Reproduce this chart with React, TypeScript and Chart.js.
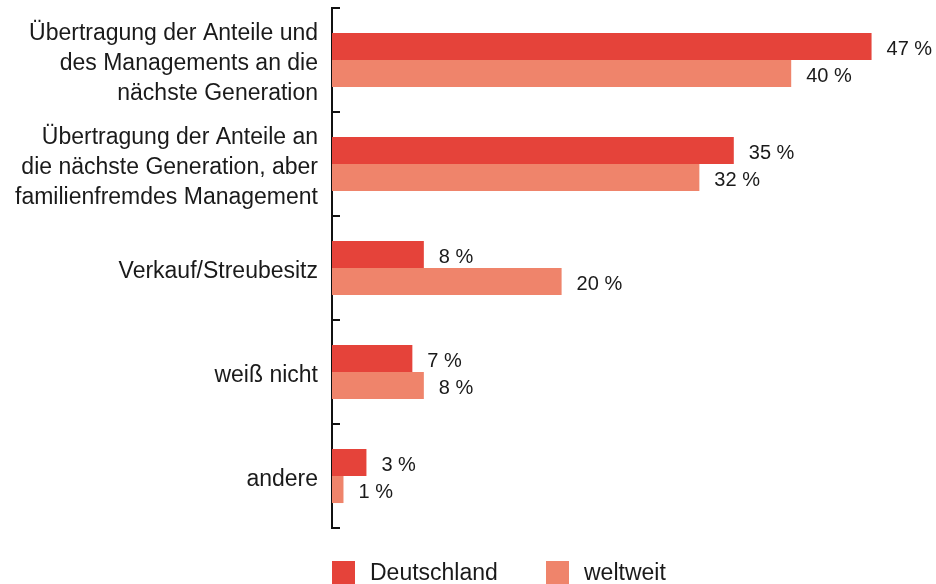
import React, { useEffect, useRef } from "react";
import { Chart, registerables } from "chart.js";

Chart.register(...registerables);

const categories: string[][] = [
  ["Übertragung der Anteile und", "des Managements an die", "nächste Generation"],
  ["Übertragung der Anteile an", "die nächste Generation, aber", "familienfremdes Management"],
  ["Verkauf/Streubesitz"],
  ["weiß nicht"],
  ["andere"],
];
const deutschland: number[] = [47, 35, 8, 7, 3];
const weltweit: number[] = [40, 32, 20, 8, 1];
const seriesNames: string[] = ["Deutschland", "weltweit"];
const colors: string[] = ["#E5433A", "#EF846B"];

const FONT = "'Liberation Sans', Arial, Helvetica, sans-serif";
const TEXT = "#1a1a1a";

const valueLabels = {
  id: "valueLabels",
  afterDatasetsDraw(chart: any) {
    const ctx = chart.ctx;
    ctx.save();
    ctx.font = `20px ${FONT}`;
    ctx.fillStyle = TEXT;
    ctx.textAlign = "left";
    ctx.textBaseline = "middle";
    chart.data.datasets.forEach((ds: any, di: number) => {
      const meta = chart.getDatasetMeta(di);
      meta.data.forEach((bar: any, i: number) => {
        ctx.fillText(`${ds.data[i]} %`, bar.x + 15, bar.y + 3);
      });
    });
    ctx.restore();
  },
};

const innerTicks = {
  id: "innerTicks",
  afterDraw(chart: any) {
    const ctx = chart.ctx;
    const y = chart.scales.y;
    const left = chart.chartArea.left;
    ctx.save();
    ctx.strokeStyle = "#111";
    ctx.lineWidth = 2;
    for (let i = 0; i <= chart.data.labels.length; i++) {
      const py = Math.round(y.getPixelForValue(i - 0.5));
      ctx.beginPath();
      ctx.moveTo(left - 1, py);
      ctx.lineTo(left + 8, py);
      ctx.stroke();
    }
    ctx.restore();
  },
};

const customLegend = {
  id: "customLegend",
  afterDraw(chart: any) {
    const ctx = chart.ctx;
    const left = chart.chartArea.left;
    const top = chart.chartArea.bottom + 33;
    const offsets = [0, 214];
    ctx.save();
    ctx.font = `23px ${FONT}`;
    ctx.textBaseline = "middle";
    ctx.textAlign = "left";
    chart.data.datasets.forEach((ds: any, di: number) => {
      const x = left + offsets[di];
      ctx.fillStyle = ds.backgroundColor;
      ctx.fillRect(x, top, 23, 23);
      ctx.fillStyle = TEXT;
      ctx.fillText(ds.label, x + 38, top + 13);
    });
    ctx.restore();
  },
};

export default function App() {
  const ref = useRef<HTMLCanvasElement | null>(null);
  useEffect(() => {
    if (!ref.current) return;
    const chart = new Chart(ref.current, {
      type: "bar",
      data: {
        labels: categories,
        datasets: [
          { label: seriesNames[0], data: deutschland, backgroundColor: colors[0] },
          { label: seriesNames[1], data: weltweit, backgroundColor: colors[1] },
        ],
      },
      options: {
        indexAxis: "y",
        animation: false,
        responsive: false,
        maintainAspectRatio: false,
        layout: { padding: { top: 8, bottom: 56, left: 0, right: 30 } },
        datasets: { bar: { categoryPercentage: 0.52, barPercentage: 1 } },
        plugins: { legend: { display: false }, tooltip: { enabled: false } },
        scales: {
          x: { display: false, min: 0, max: 50 },
          y: {
            afterFit: (scale: any) => {
              scale.width = 332;
              scale.paddingTop = 0;
              scale.paddingBottom = 0;
            },
            grid: { display: false, drawTicks: false },
            border: { display: true, color: "#111", width: 2 },
            ticks: {
              padding: 14,
              labelOffset: 4,
              color: TEXT,
              font: { family: FONT, size: 23, lineHeight: 1.304 },
            },
          },
        },
      },
      plugins: [valueLabels, innerTicks, customLegend],
    });
    return () => chart.destroy();
  }, []);
  return (
    <div style={{ position: "fixed", left: 0, top: 0, width: 936, height: 584, background: "#fff" }}>
      <canvas ref={ref} width={936} height={584} style={{ display: "block" }} />
    </div>
  );
}
